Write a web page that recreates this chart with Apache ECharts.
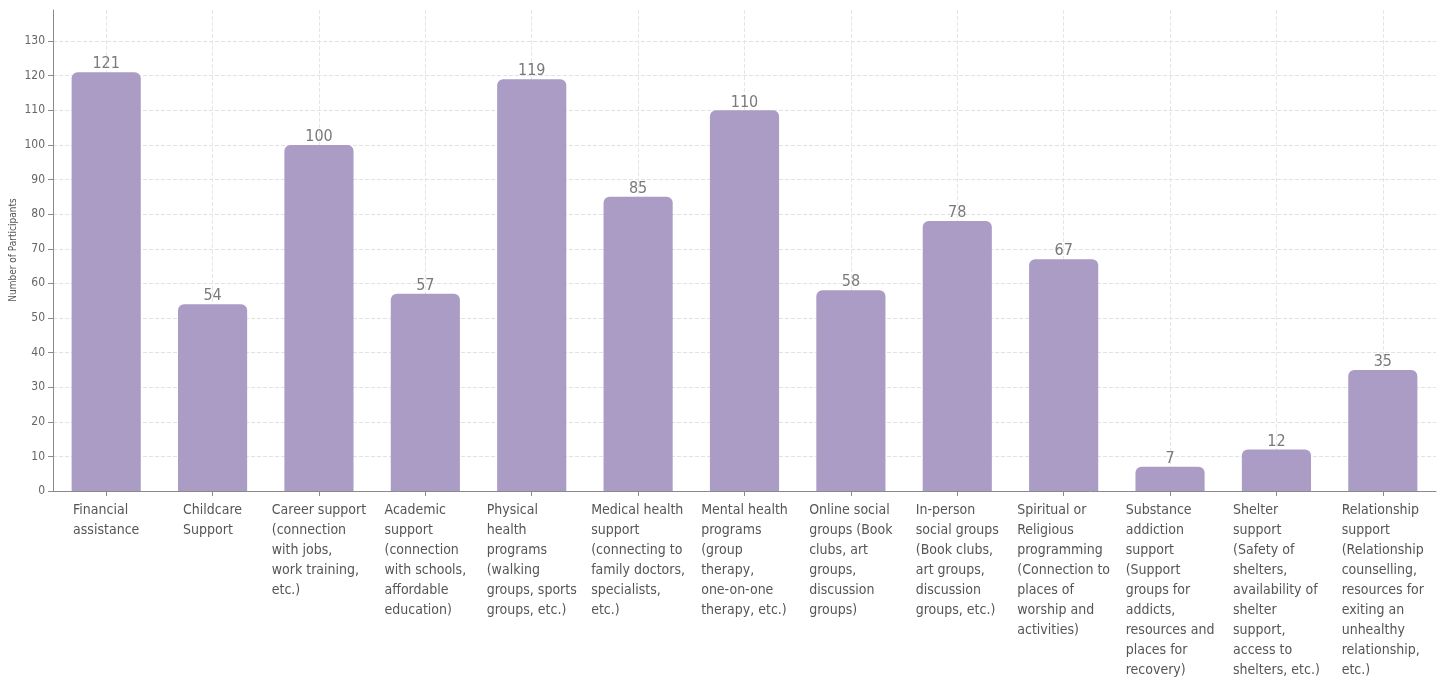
<!DOCTYPE html>
<html>
<head>
<meta charset="utf-8">
<script src="https://cdn.jsdelivr.net/npm/echarts@6/dist/echarts.min.js"></script>
<style>
  html, body { margin: 0; padding: 0; background: #ffffff; }
  #chart { width: 1437px; height: 682px; }
</style>
</head>
<body>
<div id="chart"></div>
<script>
// Support categories (pre-wrapped lines) and participant counts
const categories = [
  "Financial\nassistance",
  "Childcare\nSupport",
  "Career support\n(connection\nwith jobs,\nwork training,\netc.)",
  "Academic\nsupport\n(connection\nwith schools,\naffordable\neducation)",
  "Physical\nhealth\nprograms\n(walking\ngroups, sports\ngroups, etc.)",
  "Medical health\nsupport\n(connecting to\nfamily doctors,\nspecialists,\netc.)",
  "Mental health\nprograms\n(group\ntherapy,\none-on-one\ntherapy, etc.)",
  "Online social\ngroups (Book\nclubs, art\ngroups,\ndiscussion\ngroups)",
  "In-person\nsocial groups\n(Book clubs,\nart groups,\ndiscussion\ngroups, etc.)",
  "Spiritual or\nReligious\nprogramming\n(Connection to\nplaces of\nworship and\nactivities)",
  "Substance\naddiction\nsupport\n(Support\ngroups for\naddicts,\nresources and\nplaces for\nrecovery)",
  "Shelter\nsupport\n(Safety of\nshelters,\navailability of\nshelter\nsupport,\naccess to\nshelters, etc.)",
  "Relationship\nsupport\n(Relationship\ncounselling,\nresources for\nexiting an\nunhealthy\nrelationship,\netc.)"
];
const participants = [121, 54, 100, 57, 119, 85, 110, 58, 78, 67, 7, 12, 35];
const yAxisTitle = "Number of Participants";

const FONT = '"Liberation Sans Narrow", "DejaVu Sans Condensed", "Roboto", sans-serif';

const chart = echarts.init(document.getElementById('chart'), null, { renderer: 'canvas' });

chart.setOption({
  animation: false,
  textStyle: { fontFamily: FONT },
  grid: { left: 53, right: 1, top: 10, bottom: 191, containLabel: false, outerBoundsMode: 'none' },
  // vertical y-axis title placed beside the value labels
  graphic: [{
    type: 'text',
    x: 13,
    y: 250,
    rotation: Math.PI / 2,
    style: {
      text: yAxisTitle,
      align: 'center',
      verticalAlign: 'middle',
      fontSize: 10,
      fill: '#555555',
      fontFamily: FONT
    }
  }],
  xAxis: {
    type: 'category',
    data: categories,
    axisLine: { show: true, lineStyle: { color: '#8a8a8a', width: 1 } },
    axisTick: { show: true, alignWithLabel: true, length: 5, lineStyle: { color: '#8a8a8a' } },
    splitLine: { show: true, alignWithLabel: true, lineStyle: { color: '#e6e6e6', type: 'dashed', width: 1 } },
    axisLabel: {
      interval: 0,
      margin: 9,
      formatter: function (v) {
        // each block is centred on its tick, lines inside are left-aligned
        return v.split('\n').map(function (s) { return '{l|' + s + '}'; }).join('\n');
      },
      rich: {
        l: { align: 'left', fontSize: 14, lineHeight: 20, color: '#555555', fontFamily: FONT }
      }
    }
  },
  yAxis: {
    type: 'value',
    min: 0,
    max: 139,
    interval: 10,
    axisLine: { show: true, lineStyle: { color: '#8a8a8a', width: 1 } },
    axisTick: { show: true, length: 5, lineStyle: { color: '#8a8a8a' } },
    axisLabel: { showMaxLabel: false, fontSize: 12, color: '#666666', margin: 8, fontFamily: FONT },
    splitLine: { show: true, showMaxLine: false, lineStyle: { color: '#e2e2e2', type: 'dashed', width: 1 } }
  },
  series: [{
    type: 'bar',
    data: participants,
    barWidth: '65%',
    itemStyle: { color: '#ab9cc6', borderRadius: [6, 6, 0, 0] },
    label: {
      show: true,
      position: 'top',
      distance: 0,
      fontSize: 16,
      color: '#7a7a7a',
      fontFamily: FONT
    }
  }]
});
</script>
</body>
</html>
